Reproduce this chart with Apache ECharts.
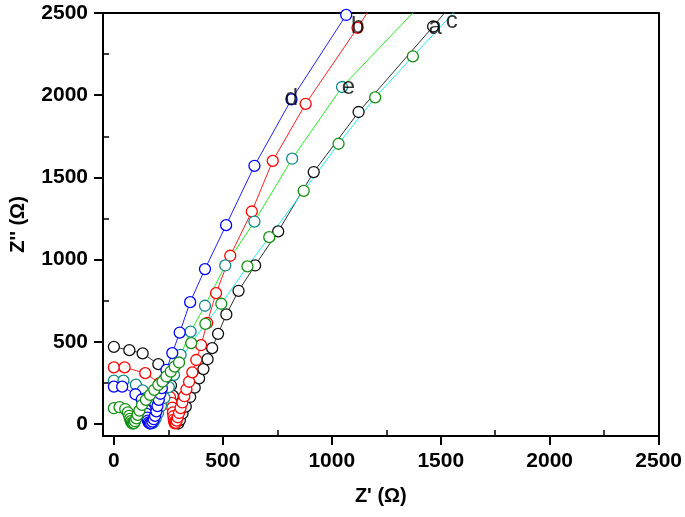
<!DOCTYPE html>
<html><head><meta charset="utf-8">
<script src="https://cdn.jsdelivr.net/npm/echarts@6/dist/echarts.min.js"></script>
<style>html,body{margin:0;padding:0;background:#fff}#chart{width:685px;height:517px}</style>
</head><body><div id="chart"></div>
<script>
// ---- data (Z', Z'') ----
const seriesA = [[0,470],[71,450],[132,430],[204,365],[245,300],[262,235],[271,172],[276,120],[279,80],[282,48],[285,24],[289,8],[295,4],[303,25],[315,65],[330,107],[350,165],[371,222],[391,278],[411,335],[430,395],[451,462],[478,549],[516,667],[572,811],[648,965],[754,1172],[917,1533],[1123,1898],[1465,2418],[1720,2820]];
const seriesB = [[0,345],[49,345],[144,310],[210,250],[243,205],[257,165],[264,130],[268,100],[271,72],[273,48],[275,28],[277,13],[280,5],[284,8],[288,22],[293,42],[299,68],[306,98],[314,132],[323,170],[333,212],[345,258],[360,315],[378,390],[400,480],[428,615],[469,797],[534,1024],[633,1293],[729,1601],[880,1948],[1118,2410],[1250,2680]];
const seriesC = [[0,97],[26,103],[52,92],[64,72],[70,50],[74,32],[78,18],[82,8],[87,3],[92,6],[97,18],[103,35],[109,57],[117,82],[129,117],[147,148],[166,178],[185,209],[204,239],[223,259],[241,290],[261,320],[279,350],[299,375],[355,493],[420,610],[493,732],[613,959],[713,1137],[871,1419],[1031,1705],[1199,1987],[1372,2236],[1600,2560]];
const seriesD = [[0,228],[38,228],[99,182],[128,150],[140,118],[146,88],[150,62],[153,40],[156,22],[160,10],[165,4],[171,6],[177,15],[183,30],[189,50],[195,78],[200,110],[206,148],[213,185],[220,219],[230,270],[241,330],[268,432],[302,557],[350,742],[418,943],[515,1210],[645,1571],[815,1975],[1066,2488],[1300,2950]];
const seriesE = [[0,265],[44,265],[101,240],[132,205],[148,160],[156,115],[160,80],[163,50],[166,28],[170,12],[176,6],[183,14],[192,35],[203,68],[216,110],[232,160],[252,225],[276,300],[306,421],[352,563],[418,720],[511,965],[645,1232],[818,1614],[1047,2050],[1400,2540]];
const curveLabels = ['a','b','c','d','e'];
const curveLabelPos = [[1475,2415],[1119,2419],[1551,2449],[815,1983],[1076,2050]];
const xTicks = [0,500,1000,1500,2000,2500];
const xMinor = [250,750,1250,1750,2250];
const yTicks = [0,500,1000,1500,2000,2500];
const yMinor = [250,750,1250,1750,2250];

const FONT = 'Liberation Sans, Arial, sans-serif';
const X_MIN = -50, X_MAX = 2500, Y_MIN = -72, Y_MAX = 2500;

function lineSeries(data, lineColor, markColor) {
  return {
    type: 'line', data: data, symbol: 'circle', symbolSize: 11, showSymbol: true, showAllSymbol: true,
    lineStyle: { color: lineColor, width: 1 },
    itemStyle: { color: '#fff', borderColor: markColor, borderWidth: 1.3 },
    emphasis: { disabled: true }, clip: true, animation: false, z: 2
  };
}
const axisCommon = {
  type: 'value', splitLine: { show: false },
  axisLine: { show: true, onZero: false, lineStyle: { color: '#000', width: 2 } }
};
const hiddenLine = { show: false, onZero: false };
const labelStyle = { fontSize: 21, fontWeight: 'bold', fontFamily: FONT, color: '#000', formatter: v => String(v) };

const chart = echarts.init(document.getElementById('chart'), null, { renderer: 'canvas' });
chart.setOption({
  animation: false,
  backgroundColor: '#fff',
  grid: { left: 100, right: 25, top: 13, bottom: 81, containLabel: false },
  xAxis: [
    Object.assign({}, axisCommon, { min: X_MIN, max: X_MAX, position: 'bottom',
      axisTick: { show: true, length: 9, customValues: xTicks, lineStyle: { color: '#000', width: 2 } },
      axisLabel: Object.assign({ customValues: xTicks, margin: 15 }, labelStyle),
      name: "Z' (Ω)", nameLocation: 'middle', nameGap: 50,
      nameTextStyle: { fontSize: 20, fontWeight: 'bold', fontFamily: FONT, color: '#000' } }),
    Object.assign({}, axisCommon, { min: X_MIN, max: X_MAX, position: 'bottom',
      axisLine: hiddenLine, axisLabel: { show: false },
      axisTick: { show: true, inside: true, length: 6, customValues: xMinor, lineStyle: { color: '#000', width: 1.5 } } }),
    Object.assign({}, axisCommon, { min: X_MIN, max: X_MAX, position: 'top',
      axisTick: { show: false }, axisLabel: { show: false } })
  ],
  yAxis: [
    Object.assign({}, axisCommon, { min: Y_MIN, max: Y_MAX, position: 'left',
      axisTick: { show: true, length: 9, customValues: yTicks, lineStyle: { color: '#000', width: 2 } },
      axisLabel: Object.assign({ customValues: yTicks, margin: 15 }, labelStyle),
      name: "Z'' (Ω)", nameLocation: 'middle', nameGap: 75,
      nameTextStyle: { fontSize: 20, fontWeight: 'bold', fontFamily: FONT, color: '#000' } }),
    Object.assign({}, axisCommon, { min: Y_MIN, max: Y_MAX, position: 'left',
      axisLine: hiddenLine, axisLabel: { show: false },
      axisTick: { show: true, inside: true, length: 6, customValues: yMinor, lineStyle: { color: '#000', width: 1.5 } } }),
    Object.assign({}, axisCommon, { min: Y_MIN, max: Y_MAX, position: 'right',
      axisTick: { show: false }, axisLabel: { show: false } })
  ],
  series: [
    lineSeries(seriesA, '#333333', '#111111'),
    lineSeries(seriesB, '#ff2020', '#ff0000'),
    lineSeries(seriesE, '#22ee22', '#128a8a'),
    lineSeries(seriesD, '#2020ff', '#0000ff'),
    lineSeries(seriesC, '#22eeee', '#139013'),
    {
      type: 'scatter', data: curveLabelPos, symbolSize: 1, itemStyle: { color: 'rgba(0,0,0,0)' },
      silent: true, z: 5,
      label: { show: true, position: 'inside', formatter: p => curveLabels[p.dataIndex],
        fontSize: 24, fontFamily: FONT, color: '#000' },
      labelLayout: { hideOverlap: false }
    }
  ]
});
</script></body></html>
